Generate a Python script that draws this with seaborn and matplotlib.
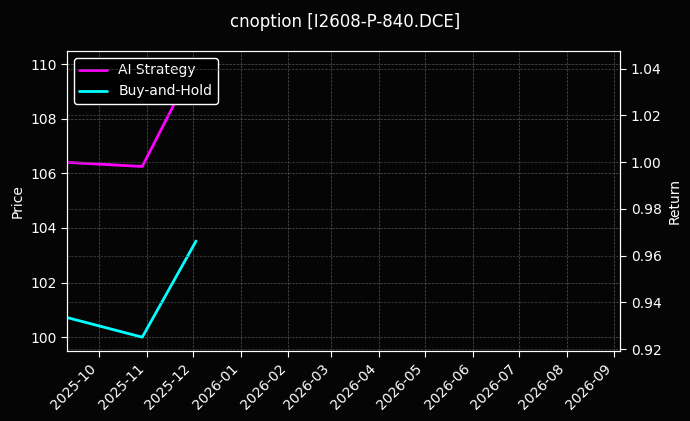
import matplotlib
matplotlib.use("Agg")
import matplotlib.pyplot as plt
import matplotlib.dates as mdates
import pandas as pd
import seaborn as sns

# ===================== DATA =====================
dates = pd.to_datetime(["2025-09-10", "2025-10-29", "2025-12-03"])
ai_strategy = [106.4, 106.25, 110.1]
buy_and_hold = [100.72, 100.0, 103.52]

df = pd.DataFrame({"date": dates, "AI Strategy": ai_strategy, "Buy-and-Hold": buy_and_hold})

# ===================== STYLE =====================
plt.style.use("dark_background")
sns.set_style("dark", {"axes.facecolor": "#050505", "figure.facecolor": "#050505",
                       "axes.edgecolor": "white", "text.color": "white",
                       "xtick.color": "white", "ytick.color": "white",
                       "axes.labelcolor": "white"})
plt.rcParams["font.family"] = ["DejaVu Sans"]

fig, ax = plt.subplots(figsize=(6.9, 4.21), dpi=100)
fig.subplots_adjust(left=0.097, right=0.899, top=0.879, bottom=0.166)

sns.lineplot(data=df, x="date", y="AI Strategy", ax=ax, color="#ff00ff", linewidth=2, label="AI Strategy")
sns.lineplot(data=df, x="date", y="Buy-and-Hold", ax=ax, color="#00ffff", linewidth=2, label="Buy-and-Hold")

ax.set_xlim(pd.Timestamp("2025-09-10"), pd.Timestamp("2026-09-05"))
ax.set_ylim(99.49, 110.48)
ax.set_ylabel("Price")
ax.set_xlabel("")
ax.xaxis.set_major_locator(mdates.MonthLocator())
ax.xaxis.set_major_formatter(mdates.DateFormatter("%Y-%m"))
plt.setp(ax.get_xticklabels(), rotation=45, ha="right")
ax.tick_params(left=True, bottom=True, length=4)
ax.grid(True, linestyle="--", linewidth=0.5, color="#555555")

ax2 = ax.twinx()
ax2.set_ylim(0.9192, 1.0476)
ax2.set_ylabel("Return")
ax2.tick_params(right=True, length=4)
ax2.grid(True, linestyle="--", linewidth=0.5, color="#444444")
ax2.set_yticks([0.92, 0.94, 0.96, 0.98, 1.00, 1.02, 1.04])

leg = ax.legend(loc="upper left", facecolor="black", edgecolor="white", framealpha=1)
for t in leg.get_texts():
    t.set_color("white")

fig.suptitle("cnoption [I2608-P-840.DCE]", y=0.97)

fig.savefig("out.png", dpi=100, facecolor=fig.get_facecolor())
